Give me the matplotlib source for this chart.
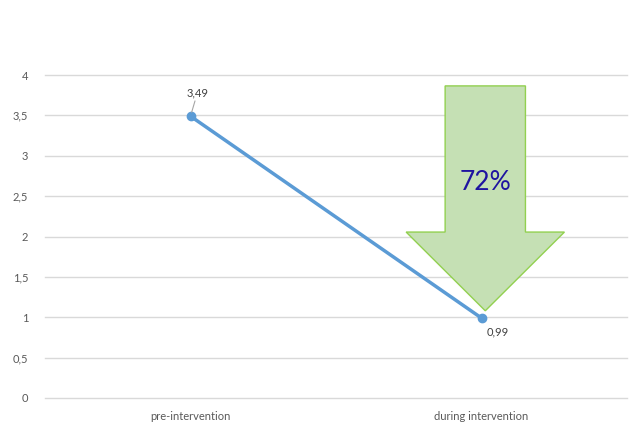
import matplotlib
matplotlib.use('Agg')
from matplotlib import pyplot as plt
from matplotlib.patches import Polygon
from matplotlib.ticker import FuncFormatter

# data
categories = ['pre-intervention', 'during intervention']
values = [3.49, 0.99]
value_labels = ['3,49', '0,99']
reduction_label = '72%'

plt.rcParams['font.family'] = ['Lato', 'DejaVu Sans']

fig = plt.figure(figsize=(6.29, 4.30), dpi=100)
ax = fig.add_axes([45 / 629, 1 - 398 / 430, 582 / 629, 323 / 430])

x = list(range(len(categories)))
ax.plot(x, values, color='#5b9bd5', lw=2.5, marker='o', ms=6, zorder=3)

ax.set_xlim(-0.5, len(categories) - 0.5)
ax.set_ylim(0, 4)
ax.set_yticks([0, 0.5, 1, 1.5, 2, 2.5, 3, 3.5, 4])
ax.yaxis.set_major_formatter(FuncFormatter(lambda v, p: f'{v:g}'.replace('.', ',')))
ax.set_xticks(x)
ax.set_xticklabels(categories)
ax.grid(axis='y', color='#d9d9d9', lw=1)
for gl in ax.get_ygridlines():
    gl.set_clip_on(False)
ax.set_axisbelow(True)
for s in ax.spines.values():
    s.set_visible(False)
ax.tick_params(axis='both', length=0, labelsize=8, colors='#595959')
ax.tick_params(axis='y', pad=12)
ax.tick_params(axis='x', pad=9)

# data labels
ax.annotate(value_labels[0], xy=(x[0], values[0]), xytext=(5, 13), textcoords='offset points',
            ha='center', va='bottom', fontsize=8, color='#404040',
            arrowprops=dict(arrowstyle='-', color='#a6a6a6', lw=0.8, shrinkA=0, shrinkB=3))
ax.annotate(value_labels[1], xy=(x[1], values[1]), xytext=(12, -10), textcoords='offset points',
            ha='center', va='center', fontsize=8, color='#404040')

# big arrow showing the drop
tip_x, tip_y = x[1] + 0.013, values[1] + 0.09
shaft_half, head_half = 0.138, 0.272
top_y, neck_y = 3.865, 2.055
arrow = Polygon([(tip_x - shaft_half, top_y), (tip_x + shaft_half, top_y),
                 (tip_x + shaft_half, neck_y), (tip_x + head_half, neck_y),
                 (tip_x, tip_y), (tip_x - head_half, neck_y),
                 (tip_x - shaft_half, neck_y)],
                closed=True, facecolor='#c5e0b4', edgecolor='#92d050', lw=1, zorder=2)
ax.add_patch(arrow)
ax.text(tip_x, 2.67, reduction_label, ha='center', va='center', fontsize=19, color='#1f14a0', zorder=4)

fig.savefig('out.png', dpi=100)
